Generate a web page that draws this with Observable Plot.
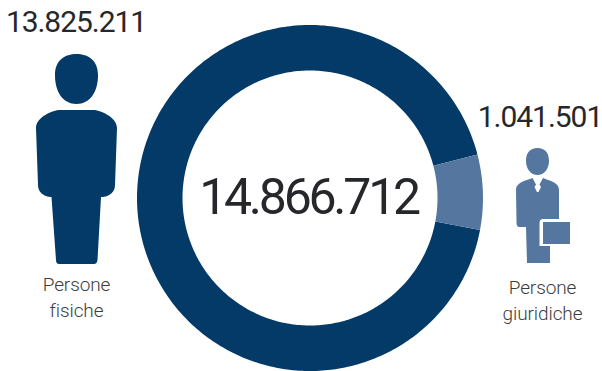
<!DOCTYPE html>
<html>
<head>
<meta charset="utf-8">
<script src="https://cdn.jsdelivr.net/npm/d3@7"></script>
<script src="https://cdn.jsdelivr.net/npm/@observablehq/plot@0.6"></script>
<style>
html,body{margin:0;padding:0;background:#fff}
svg{display:block}
.numero text{letter-spacing:-.035em}
.totale text{letter-spacing:-.065em}
.etichetta text{letter-spacing:-.005em}
</style>
</head>
<body>
<div id="chart"></div>
<script>
// Contribuenti per tipologia
const categories = ["Persone fisiche", "Persone giuridiche"];
const values = [13825211, 1041501];
const total = 14866712;
const colors = ["#033a68", "#55779f"];

const W = 602, H = 371;
const centre = [310, 198], outerR = 173, innerR = 127.5;
const itNumber = d3.formatLocale({decimal: ",", thousands: ".", grouping: [3], currency: ["€", ""]}).format(",d");

// Ring rotated so that the smaller slice sits on the right-hand side, slightly above the middle
const startAngle = 75.4 * Math.PI / 180;
const pie = d3.pie().sort(null).startAngle(startAngle + values[1] / total * 2 * Math.PI).endAngle(startAngle + values[1] / total * 2 * Math.PI + 2 * Math.PI)(values);

function ringPoints(slice) {
  const n = Math.ceil((slice.endAngle - slice.startAngle) * 60);
  return d3.range(n + 1).map(i => {
    const a = slice.startAngle + (slice.endAngle - slice.startAngle) * i / n;
    return {
      x1: centre[0] + innerR * Math.sin(a), y1: centre[1] - innerR * Math.cos(a),
      x2: centre[0] + outerR * Math.sin(a), y2: centre[1] - outerR * Math.cos(a)
    };
  });
}

const personPath = "M55,75C55,60 65,54 76.5,54C88,54 98,60 98,75C98,92 90,104 76.5,104C63,104 55,92 55,75Z" +
  "M60,110L93,110C100,110 117,117 117,128L115,185C115,192 110,196 103,197L101,197L97.5,260Q97,264 94,264L59,264Q56,264 56,260L51.5,197L50,197C43,196 38,192 38,185L36,128C36,117 53,110 60,110Z";

const businessPath = "M526,161C526,153 530,148 537.500,148C545,148 549,153 549,161C549,169 544,175 537.500,175C531,175 526,169 526,161Z" +
  "M527,180L532.500,178L536,184.500L534.500,187L537,192L538.500,192L541,187L539.500,184.500L543,178L548,180C555,182 559,185 559,190L559,219L543,219Q539.500,219 539.500,223L539.500,246L550,246L550,263L527,263L526,227L520,227C517,227 516.500,225 516.500,222L516,190C516,185 520,182 527,180Z" +
  "M543,222L570,222L570,244L543,244Z";

const numberMark = (v, x, y, fontSize, className) =>
  Plot.text([v], {x: () => x, y: () => y, text: d => itNumber(d), fontSize, fontWeight: 400, fill: "#26272a", className});
const labelMark = (name, x, y) =>
  Plot.text([name.replace(" ", "\n")], {x: () => x, y: () => y, text: d => d, fontSize: 19, lineHeight: 1.37, fontWeight: 300, fill: "#3c3d40", className: "etichetta"});

const chart = Plot.plot({
  width: W, height: H, margin: 0,
  style: {background: "#fff", fontFamily: "Roboto, sans-serif"},
  x: {domain: [0, W], range: [0, W], axis: null},
  y: {domain: [0, H], range: [0, H], axis: null},
  marks: [
    ...pie.map((slice, i) => Plot.area(ringPoints(slice), {x1: "x1", y1: "y1", x2: "x2", y2: "y2", fill: colors[i], curve: "linear"})),
    () => {
      const g = d3.create("svg:g");
      g.append("path").attr("d", personPath).attr("fill", colors[0]);
      g.append("path").attr("d", businessPath).attr("fill", colors[1]);
      return g.node();
    },
    numberMark(total, 308, 197, 50, "totale"),
    numberMark(values[0], 75.5, 22, 30, "numero"),
    numberMark(values[1], 539.5, 117, 30, "numero"),
    labelMark(categories[0], 76, 295),
    labelMark(categories[1], 542, 298)
  ]
});
document.getElementById("chart").append(chart);
</script>
</body>
</html>
